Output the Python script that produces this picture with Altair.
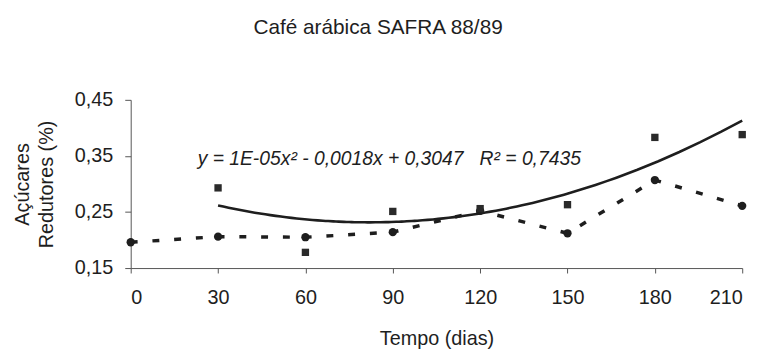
import altair as alt
import pandas as pd

# --- data ---
dias_circ = [0, 30, 60, 90, 120, 150, 180, 210]
val_circ = [0.196, 0.206, 0.205, 0.214, 0.252, 0.212, 0.307, 0.261]

dias_quad = [30, 60, 90, 120, 150, 180, 210]
val_quad = [0.293, 0.178, 0.251, 0.256, 0.263, 0.383, 0.388]

x_ticks = [0, 30, 60, 90, 120, 150, 180, 210]
y_ticks = [0.15, 0.25, 0.35, 0.45]

titulo = "Café arábica SAFRA 88/89"
x_titulo = "Tempo (dias)"
y_titulo = ["Açúcares", "Redutores (%)"]
equacao = ["y = 1E-05x² - 0,0018x + 0,3047\u00a0\u00a0\u00a0R² = 0,7435"]

FONT = "Liberation Sans"
INK = "#1e1e1e"

df_c = pd.DataFrame({"dia": dias_circ, "valor": val_circ})
df_q = pd.DataFrame({"dia": dias_quad, "valor": val_quad})
df_t = pd.DataFrame({"t": equacao})

xs = alt.Scale(domain=[0, 210], nice=False)
ys = alt.Scale(domain=[0.15, 0.45], nice=False, zero=False)

x_axis = alt.Axis(values=x_ticks, title=x_titulo, labelPadding=15, titlePadding=21,
                  tickSize=5)
y_axis = alt.Axis(values=y_ticks, title=y_titulo, tickSize=6, labelPadding=12,
                  titlePadding=18, titleLineHeight=24,
                  labelExpr="replace(format(datum.value, '.2f'), '.', ',')")

X = alt.X("dia:Q", scale=xs, axis=x_axis)
Y = alt.Y("valor:Q", scale=ys, axis=y_axis)

dashed = alt.Chart(df_c).mark_line(color=INK, strokeWidth=3.5, strokeDash=[7, 15]).encode(x=X, y=Y)

circles = alt.Chart(df_c).mark_point(shape="circle", filled=True, color=INK, size=70, opacity=1).encode(x=X, y=Y)

trend = alt.Chart(df_q).transform_regression(
    "dia", "valor", method="poly", order=2, extent=[30, 210]
).mark_line(color=INK, strokeWidth=2.6).encode(x=X, y=Y)

squares = alt.Chart(df_q).mark_point(shape="square", filled=True, color="#2a2a2a", size=55, opacity=1).encode(x=X, y=Y)

label = alt.Chart(df_t).mark_text(align="left", baseline="alphabetic", fontSize=19.5,
                                  fontStyle="italic", font=FONT, color=INK).encode(
    x=alt.XDatum(23, type="quantitative", scale=xs, axis=x_axis),
    y=alt.YDatum(0.334, type="quantitative", scale=ys, axis=y_axis),
    text="t:N",
)

chart = alt.layer(dashed, trend, circles, squares, label).properties(
    width=618,
    height=170,
    autosize="none",
    padding={"left": 124, "top": 91, "right": 21, "bottom": 81},
    title=alt.Title(titulo, fontSize=21, font=FONT, fontWeight="normal", color=INK,
                    anchor="middle", dx=-59, offset=53),
).configure_axis(
    labelFont=FONT, titleFont=FONT, labelFontSize=20, titleFontSize=20,
    titleFontWeight="normal", labelColor=INK, titleColor=INK,
    domainColor="#555", tickColor="#555", grid=False,
).configure_view(stroke=None)

chart.save("out.html", embed_options={"renderer": "svg", "actions": False})
